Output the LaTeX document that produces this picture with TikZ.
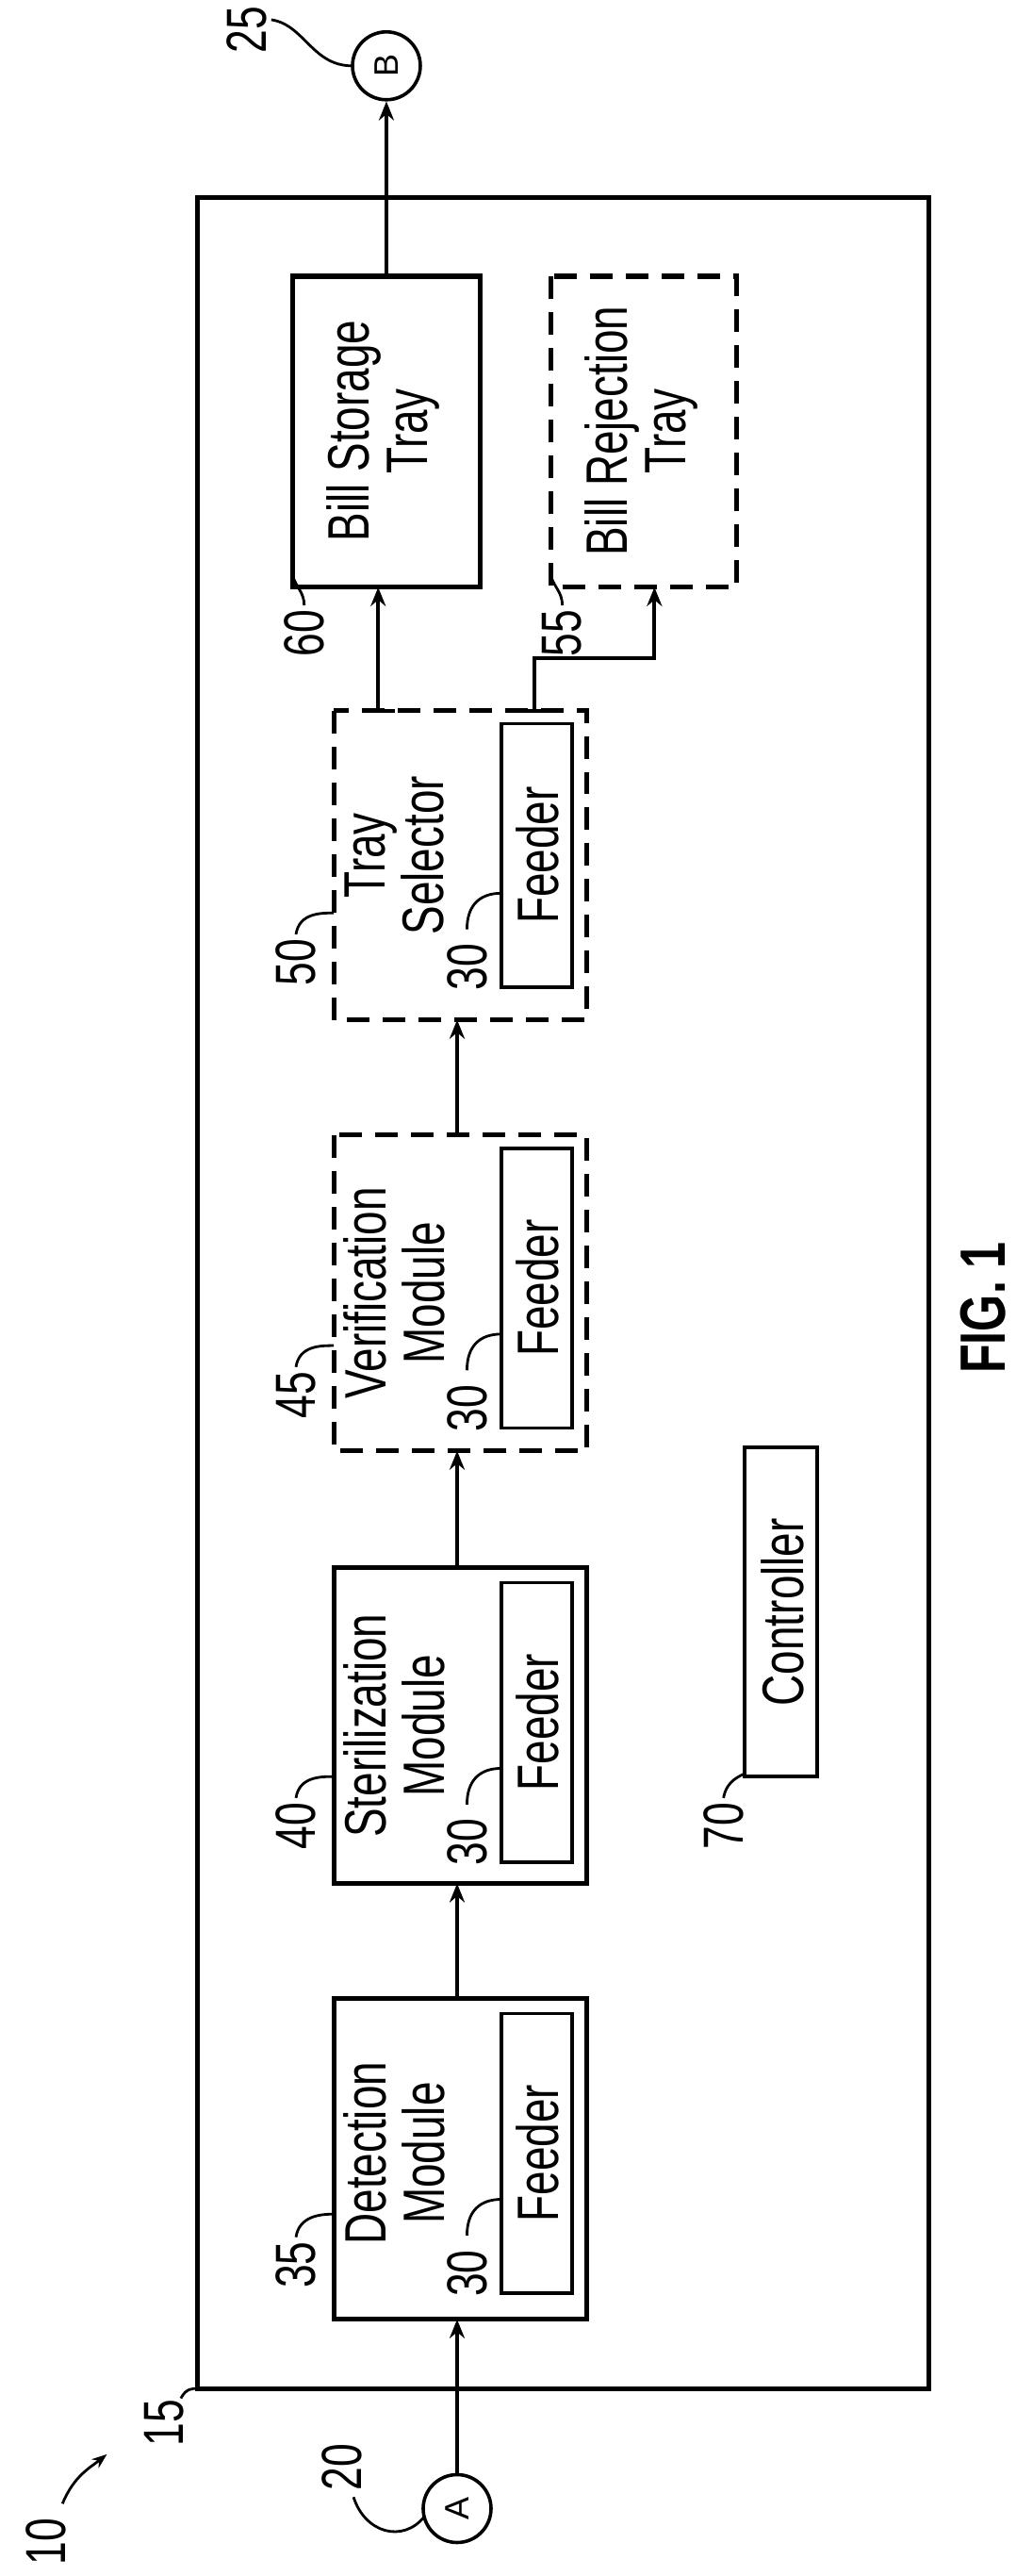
\documentclass[tikz,border=0pt]{standalone}
\usepackage{fontspec}
\setmainfont{Liberation Sans}
\newfontfamily\nar[FakeStretch=0.74]{Liberation Sans}
\usetikzlibrary{arrows.meta}
\begin{document}
\begin{tikzpicture}[x=0.8725pt,y=-0.8725pt,
  line width=2.2pt,
  box/.style={draw,line width=2.6pt},
  dbox/.style={draw,line width=2.6pt,dash pattern=on 12pt off 7pt},
  ibox/.style={draw,line width=1.8pt},
  txt/.style={rotate=90,align=center,inner sep=0pt,font=\nar\fontsize{31}{31}\selectfont},
  lab/.style={rotate=90,font=\nar\fontsize{30}{30}\selectfont,inner sep=1pt},
  arr/.style={-{Stealth[length=10pt,width=8pt]},line width=2pt},
  lead/.style={line width=1.4pt}]
\useasboundingbox (0,0) rectangle (628,1566);
% outer frame
\draw[box] (120,120) rectangle (565,1452);
\coordinate (frameC) at (120,1452);
% boxes
\draw[box] (178,168) rectangle (292,357);
\node[txt] (bst) at (233,262) {Bill Storage\\Tray};
\draw[dbox] (335,168) rectangle (448,357);
\node[txt] (brt) at (390,262) {Bill Rejection\\Tray};
\draw[dbox] (203,432) rectangle (357,620);
\node[txt] (ts) at (240,520) {Tray\\Selector};
\draw[dbox] (203,690) rectangle (357,882);
\node[txt] (vm) at (240,786) {Verification\\Module};
\draw[box] (203,953) rectangle (357,1145);
\node[txt] (sm) at (240,1049) {Sterilization\\Module};
\draw[box] (203,1215) rectangle (357,1410);
\node[txt] (dm) at (240,1309) {Detection\\Module};
% feeders
\foreach \n/\a/\b in {f1/440/600,f2/698/868,f3/962/1132,f4/1224/1394}{
  \draw[ibox] (305,\a) rectangle (348,\b);
  \node[txt] (\n) at (327,{(\a+\b)/2}) {Feeder};
  \node[lab] at (284,\b-12) {30};
  \draw[lead] (284,\b-35) .. controls (284,\b-50) and (292,\b-57) .. (305,\b-57);
}
% controller
\draw[ibox] (453,880) rectangle (497,1080);
\node[txt] (ctl) at (476,980) {Controller};
% circles
\node[draw,circle,line width=1.8pt,minimum size=36pt,inner sep=0pt,rotate=90,font=\fontsize{18}{20}\selectfont] (B) at (235,40) {B};
\node[draw,circle,line width=1.8pt,minimum size=36pt,inner sep=0pt,rotate=90,font=\fontsize{18}{20}\selectfont] (A) at (278,1525) {A};
\coordinate (Bl) at (214,40);
\coordinate (Ab) at (278,1546);
% arrows
\coordinate (bstTop) at (235,168);
\draw[arr] (bstTop) -- (B);
\coordinate (dmBot) at (278,1410);
\draw[arr] (A) -- (dmBot);
\coordinate (dmTop) at (278,1215); \coordinate (smBot) at (278,1145);
\draw[arr] (dmTop) -- (smBot);
\coordinate (smTop) at (278,953); \coordinate (vmBot) at (278,882);
\draw[arr] (smTop) -- (vmBot);
\coordinate (vmTop) at (278,690); \coordinate (tsBot) at (278,620);
\draw[arr] (vmTop) -- (tsBot);
\coordinate (tsA) at (230,432); \coordinate (bstBot) at (230,357);
\draw[arr] (tsA) -- (bstBot);
\draw[line width=2pt] (220,432) -- (240,432);
\coordinate (tsB) at (325,432); \coordinate (brtBot) at (398,357);
\draw[arr] (tsB) -- (325,400) -- (398,400) -- (brtBot);
\draw[line width=2pt] (315,432) -- (335,432);
% labels
\node[lab] (l25) at (150,18) {25};
\draw[lead] (165,12) .. controls (185,15) and (190,40) .. (Bl);
\node[lab] (l20) at (208,1500) {20};
\draw[lead] (215,1518) .. controls (222,1540) and (245,1546) .. (258,1530);
\node[lab] (l15) at (100,1473) {15};
\draw[lead] (110,1458) .. controls (113,1452) and (117,1452) .. (frameC);
\node[lab] (l60) at (185,385) {60};
\draw[lead] (185,368) .. controls (185,360) and (180,357) .. (178,350);
\node[lab] (l55) at (342,385) {55};
\draw[lead] (342,368) .. controls (342,360) and (337,357) .. (335,350);
\node[lab] (l50) at (180,585) {50};
\draw[lead] (180,568) .. controls (182,555) and (195,555) .. (203,555);
\node[lab] (l45) at (180,848) {45};
\draw[lead] (180,831) .. controls (182,818) and (195,818) .. (203,818);
\node[lab] (l40) at (180,1110) {40};
\draw[lead] (180,1093) .. controls (182,1080) and (195,1080) .. (203,1080);
\node[lab] (l35) at (180,1377) {35};
\draw[lead] (180,1360) .. controls (182,1347) and (195,1346) .. (203,1346);
\node[lab] (l70) at (440,1110) {70};
\draw[lead] (440,1093) .. controls (442,1082) and (450,1080) .. (453,1078);
\node[lab] (l10) at (28,1545) {10};
\draw[lead,-{Stealth[length=8pt,width=6pt]}] (38,1522) .. controls (45,1505) and (55,1500) .. (65,1492);
\node[rotate=90,font=\nar\bfseries\fontsize{34}{34}\selectfont] (fig) at (598,795) {FIG. 1};
\end{tikzpicture}
\end{document}
